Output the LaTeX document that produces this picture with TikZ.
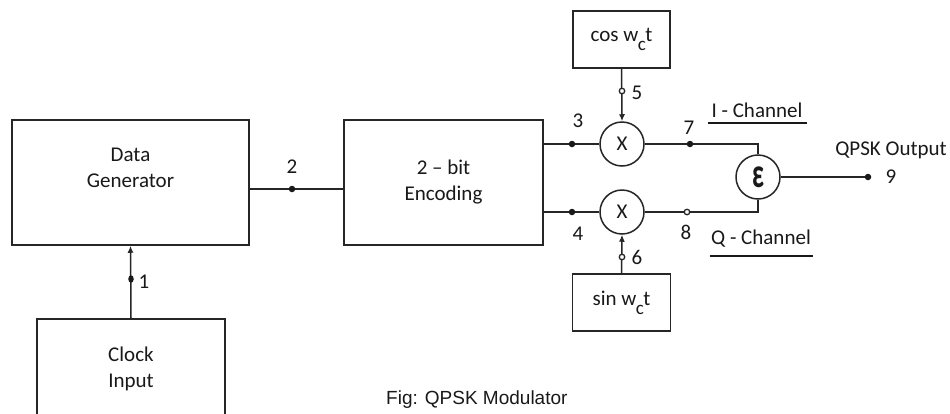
\documentclass[tikz,border=0pt]{standalone}
\usepackage{fontspec}
\setmainfont{Carlito}
\newfontfamily\capfont{Liberation Sans}
\usetikzlibrary{arrows.meta,shapes.geometric}
\begin{document}
\begin{tikzpicture}[x=1pt,y=-1pt,
  every node/.style={font=\fontsize{21}{26}\selectfont, text=black!90},
  box/.style={draw=black!85, line width=1.5pt, rectangle, align=center, inner sep=0pt},
  mix/.style={draw=black!85, line width=1.5pt, circle, minimum size=44pt, inner sep=0pt},
  wire/.style={draw=black!85, line width=1.5pt},
  arr/.style={wire, -{Latex[length=7pt,width=6pt]}},
  fdot/.style={circle, fill=black!90, inner sep=0pt, minimum size=6.5pt},
  hdot/.style={circle, draw=black!85, fill=white, line width=1.3pt, inner sep=0pt, minimum size=5.5pt},
  num/.style={font=\fontsize{21}{24}\selectfont},
  chan/.style={font=\fontsize{21}{24}\selectfont, inner sep=0pt}
]
\useasboundingbox (0,0) rectangle (950,413);
\clip (0,0) rectangle (950,413);
\fill[white] (0,0) rectangle (950,413);

% blocks
\node[box, minimum width=237pt, minimum height=125pt, text depth=30pt] (dg) at (130.5,182.5) {Data\\Generator};
\node[box, minimum width=199pt, minimum height=125pt] (enc) at (443.5,182.5) {2 -- bit\\Encoding};
\node[box, minimum width=188pt, minimum height=100pt, anchor=north] (clk) at (131,318) {Clock\\Input};
\node[box, minimum width=97pt, minimum height=57pt] (cos) at (621.5,39.5) {cos w\kern-0.5pt\raisebox{-0.42em}{\fontsize{19}{20}\selectfont c}\kern-0.5pt t};
\node[box, minimum width=98pt, minimum height=57pt] (sin) at (621.5,302.5) {sin w\kern-0.5pt\raisebox{-0.42em}{\fontsize{19}{20}\selectfont c}\kern-0.5pt t};
\node[mix] (m1) at (622,144) {X};
\node[mix] (m2) at (622,212) {X};
\node[mix] (sum) at (758,177) {\raisebox{-0.25em}{\scalebox{1.25}[2.0]{\bfseries ε}}};

% junction coordinates
\coordinate (p1) at (131,279);
\coordinate (p2) at (292,189);
\coordinate (p3) at (572,144);
\coordinate (p4) at (572,212);
\coordinate (p5) at (622,91);
\coordinate (p6) at (622,257);
\coordinate (p7) at (690,144);
\coordinate (p8) at (687,212);
\coordinate (p9) at (868,177);

% connectors
\draw[arr] (clk.north) -- (dg.south);
\draw[wire] (dg.east |- p2) -- (enc.west |- p2);
\draw[wire] (enc.east |- m1) -- (m1.west);
\draw[wire] (enc.east |- m2) -- (m2.west);
\draw[arr] (cos.south) -- (m1.north);
\draw[arr] (sin.north) -- (m2.south);
\draw[wire] (m1.east) -- (sum.north |- m1) -- (sum.north);
\draw[wire] (m2.east) -- (sum.south |- m2) -- (sum.south);
\draw[wire] (sum.east) -- (p9);

% dots
\node[ellipse, fill=black!90, inner sep=0pt, minimum width=5.5pt, minimum height=7.5pt] (d1) at (p1) {};
\node[fdot] (d2) at (p2) {};
\node[fdot] (d3) at (p3) {};
\node[fdot] (d4) at (p4) {};
\node[hdot] (d5) at (p5) {};
\node[hdot] (d6) at (p6) {};
\node[fdot] (d7) at (p7) {};
\node[hdot] (d8) at (p8) {};
\node[fdot] (d9) at (p9) {};

% numbers
\node[num] (l1) at (144,282) {1};
\node[num] (l2) at (292,167) {2};
\node[num] (l3) at (578,121) {3};
\node[num] (l4) at (578,234) {4};
\node[num] (l5) at (637,93) {5};
\node[num] (l6) at (637,257) {6};
\node[num] (l7) at (689,128) {7};
\node[num] (l8) at (686,232) {8};
\node[num] (l9) at (891,177) {9};
\node[num] (qo) at (891,150) {QPSK Output};

% channel labels
\node[chan] (ich) at (757,110) {I - Channel};
\draw[black!90, line width=2.6pt] (708,123) -- (807,123);
\node[chan] (qch) at (761,239) {Q - Channel};
\draw[black!90, line width=2.6pt] (710,256) -- (813,256);

% caption
\node[anchor=south west, inner sep=0pt, font=\capfont\fontsize{19}{22}\selectfont, text=black!90] (cap) at (386,409) {Fig: QPSK Modulator};
\end{tikzpicture}
\end{document}
